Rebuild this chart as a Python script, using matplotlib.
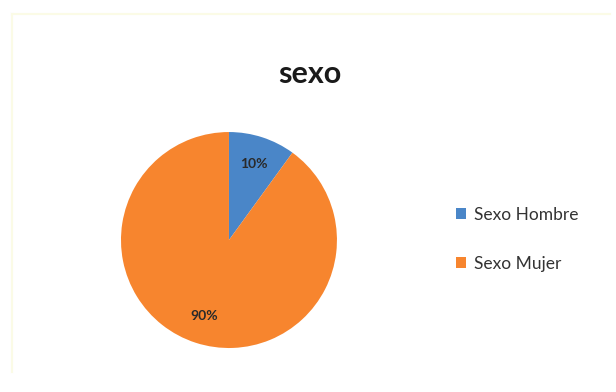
import matplotlib
matplotlib.use('Agg')
import matplotlib.pyplot as plt
from matplotlib.patches import Patch

# datos de la encuesta
categorias = ['Sexo Hombre', 'Sexo Mujer']
porcentajes = [10, 90]
colores = ['#4a86c8', '#f7852e']
titulo = 'sexo'

plt.rcParams['font.family'] = ['Lato', 'DejaVu Sans']

fig = plt.figure(figsize=(6.16, 3.92), dpi=100)
fig.patch.set_facecolor('white')

ax = fig.add_axes([0.1964, 0.1122, 0.3506, 0.551])
wedges, texts, autotexts = ax.pie(porcentajes, colors=colores, startangle=90, counterclock=False,
                                  autopct='%1.0f%%', pctdistance=0.74, radius=1,
                                  wedgeprops=dict(linewidth=0))
for t in autotexts:
    t.set_fontsize(10)
    t.set_fontweight('bold')
    t.set_color('#2a2a2a')
ax.set_xlim(-1, 1)
ax.set_ylim(-1, 1)
ax.set_aspect('equal')

fig.text(0.503, 0.81, titulo, ha='center', va='center', fontsize=22, fontweight='bold', color='#1a1a1a')

handles = [Patch(facecolor=c, edgecolor='none') for c in colores]
fig.legend(handles, categorias, loc='center left', bbox_to_anchor=(0.715, 0.39), frameon=False,
           fontsize=12.5, handlelength=0.55, handleheight=0.55, handletextpad=0.5, labelspacing=1.9,
           labelcolor='#333333')

# borde tenue del área del gráfico
fig.add_artist(plt.Line2D([0.02, 0.02], [0.05, 0.965], color='#fbfbe6', lw=1.5))
fig.add_artist(plt.Line2D([0.02, 0.99], [0.965, 0.965], color='#fbfbe6', lw=1.5))

fig.savefig('out.png', dpi=100)
